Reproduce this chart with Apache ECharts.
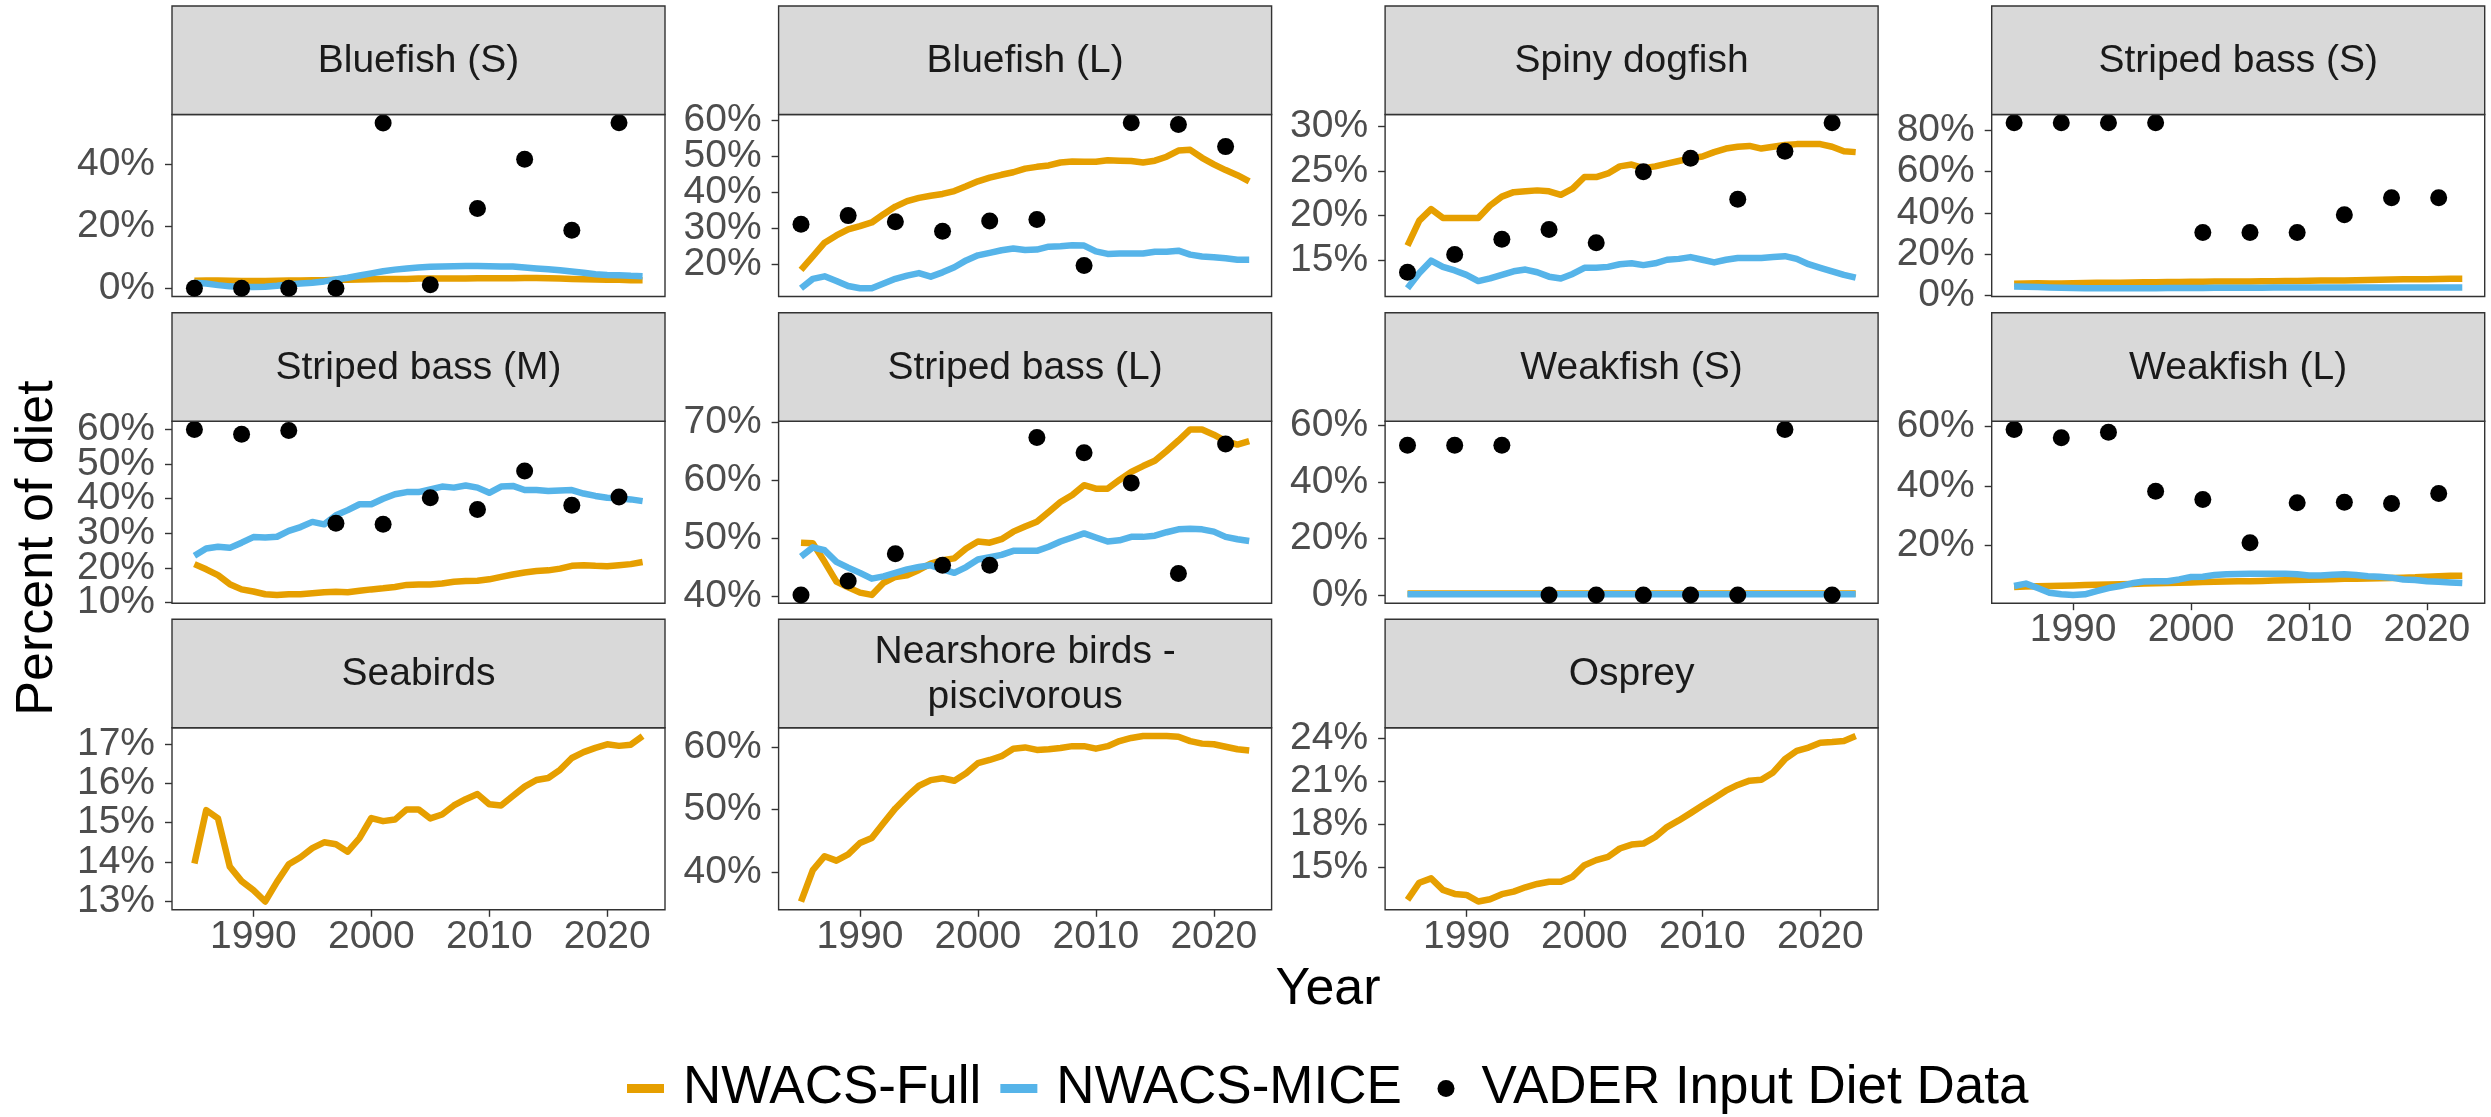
<!DOCTYPE html>
<html><head><meta charset="utf-8">
<script src="https://cdn.jsdelivr.net/npm/echarts@6/dist/echarts.min.js"></script>
<style>html,body{margin:0;padding:0;background:#fff}#c{width:2491px;height:1117px}</style>
</head><body><div id="c"></div>
<script>
// ---------- DATA ----------
const years = [1985,1986,1987,1988,1989,1990,1991,1992,1993,1994,1995,1996,1997,1998,1999,2000,2001,2002,2003,2004,2005,2006,2007,2008,2009,2010,2011,2012,2013,2014,2015,2016,2017,2018,2019,2020,2021,2022,2023];
const dietYears = [1985,1989,1993,1997,2001,2005,2009,2013,2017,2021];
const xTicks = [1990,2000,2010,2020];
const seriesNames = ['NWACS-Full','NWACS-MICE','VADER Input Diet Data'];
const panelTitles = ['Bluefish (S)','Bluefish (L)','Spiny dogfish','Striped bass (S)','Striped bass (M)','Striped bass (L)','Weakfish (S)','Weakfish (L)','Seabirds','Nearshore birds -\npiscivorous','Osprey'];

const bluefishS_full = [2.4,2.5,2.5,2.4,2.3,2.3,2.3,2.4,2.5,2.5, 2.6,2.6,2.7,2.7,2.8,2.9,3.0,3.0,3.0,3.1, 3.1,3.1,3.1,3.1,3.2,3.2,3.2,3.2,3.3,3.3, 3.2,3.1,3.0,2.9,2.8,2.7,2.7,2.6,2.6];
const bluefishS_mice = [1.8,1.5,1.0,0.6,0.4,0.4,0.5,0.8,1.2,1.5, 1.8,2.2,2.8,3.4,4.1,4.8,5.5,6.0,6.4,6.7, 6.9,7.0,7.1,7.2,7.2,7.1,7.0,7.0,6.7,6.4, 6.1,5.8,5.4,5.0,4.5,4.3,4.2,4.0,3.9];
const bluefishS_diet = [0,0,0,0,53.3,1.1,25.7,41.6,18.7,53.4];
const bluefishS_ticks = [0,20,40];

const bluefishL_full = [18.6,22.3,26.1,28.1,29.8,30.7,31.7,34.0,36.1,37.6, 38.5,39.1,39.6,40.4,41.7,43.1,44.1,44.9,45.6,46.6, 47.1,47.5,48.3,48.6,48.5,48.5,48.9,48.8,48.7,48.3, 48.8,49.9,51.6,51.8,49.6,47.8,46.2,44.8,43.1];
const bluefishL_mice = [13.5,16.1,16.8,15.5,14.1,13.5,13.5,14.8,16.1,17.0, 17.7,16.7,17.9,19.3,21.2,22.6,23.3,24.0,24.5,24.1, 24.2,25.0,25.1,25.4,25.3,23.7,23.0,23.1,23.1,23.1, 23.6,23.6,23.9,22.8,22.3,22.1,21.8,21.4,21.4];
const bluefishL_diet = [31.2,33.6,31.9,29.3,32.1,32.5,19.8,59.3,58.8,52.7];
const bluefishL_ticks = [20,30,40,50,60];

const dogfish_full = [16.6,19.4,20.7,19.7,19.7,19.7,19.7,21.1,22.1,22.6, 22.7,22.8,22.7,22.3,23.0,24.3,24.3,24.7,25.5,25.7, 25.3,25.5,25.8,26.1,26.4,26.6,27.1,27.5,27.7,27.8, 27.5,27.7,27.9,28.0,28.0,28.0,27.7,27.2,27.1];
const dogfish_mice = [11.8,13.5,14.9,14.2,13.8,13.3,12.6,12.9,13.3,13.7, 13.9,13.6,13.1,12.9,13.4,14.1,14.1,14.2,14.5,14.6, 14.4,14.6,15.0,15.1,15.3,15.0,14.7,15.0,15.2,15.2, 15.2,15.3,15.4,15.1,14.5,14.1,13.7,13.3,13.0];
const dogfish_diet = [13.6,15.6,17.3,18.4,16.9,24.9,26.4,21.8,27.2,30.4];
const dogfish_ticks = [15,20,25,30];

const stripedS_full = [5.8,5.9,6.0,5.9,5.9,6.0,6.1,6.2,6.2,6.3, 6.4,6.5,6.5,6.6,6.6,6.7,6.7,6.8,6.8,6.9, 6.9,7.0,7.0,7.1,7.1,7.2,7.3,7.3,7.4,7.5, 7.6,7.7,7.8,7.9,8.0,8.0,8.1,8.2,8.2];
const stripedS_mice = [4.4,4.3,4.2,4.0,3.8,3.7,3.6,3.6,3.6,3.6, 3.6,3.6,3.6,3.7,3.7,3.7,3.7,3.8,3.8,3.8, 3.8,3.8,3.9,3.9,3.9,3.9,3.9,3.9,4.0,4.0, 4.0,4.0,4.0,4.0,4.0,4.0,4.0,4.0,4.0];
const stripedS_diet = [83.7,83.7,83.7,83.7,30.6,30.6,30.6,39.2,47.4,47.4];
const stripedS_ticks = [0,20,40,60,80];

const stripedM_full = [21.1,19.6,17.9,15.3,13.8,13.2,12.4,12.2,12.4,12.4, 12.7,13.0,13.1,13.0,13.4,13.8,14.1,14.5,15.1,15.2, 15.2,15.5,16.0,16.2,16.3,16.7,17.4,18.1,18.7,19.1, 19.3,19.8,20.6,20.8,20.6,20.5,20.8,21.1,21.7];
const stripedM_mice = [23.5,25.6,26.1,25.8,27.3,28.9,28.8,29.0,30.7,31.8, 33.3,32.6,35.2,36.7,38.4,38.4,40.0,41.3,41.9,41.9, 42.7,43.5,43.2,43.8,43.2,41.7,43.5,43.7,42.5,42.5, 42.2,42.4,42.5,41.5,40.8,40.3,40.1,39.8,39.3];
const stripedM_diet = [60.0,58.6,59.7,32.9,32.6,40.3,36.9,48.0,38.1,40.5];
const stripedM_ticks = [10,20,30,40,50,60];

const stripedL_full = [49.2,49.1,45.9,42.5,41.5,40.6,40.2,42.3,43.3,43.6, 44.5,45.6,46.2,46.5,48.2,49.4,49.2,49.8,51.1,52.0, 52.8,54.5,56.2,57.4,59.1,58.5,58.5,60.0,61.4,62.4, 63.3,65.0,66.8,68.7,68.7,67.8,66.7,66.1,66.7];
const stripedL_mice = [46.8,48.4,47.9,45.9,44.9,44.0,43.0,43.4,44.0,44.6, 45.0,45.3,44.6,44.0,45.0,46.3,46.7,47.1,47.8,47.8, 47.8,48.5,49.4,50.1,50.8,50.1,49.4,49.6,50.2,50.2, 50.4,51.0,51.5,51.6,51.5,51.1,50.2,49.8,49.5];
const stripedL_diet = [40.2,42.6,47.3,45.3,45.3,67.3,64.7,59.5,43.9,66.2];
const stripedL_ticks = [40,50,60,70];

const weakS_full = [0.5,0.5,0.5,0.5,0.5,0.5,0.5,0.5,0.5,0.5, 0.5,0.5,0.5,0.5,0.5,0.5,0.5,0.5,0.5,0.5, 0.5,0.5,0.5,0.5,0.5,0.5,0.5,0.5,0.5,0.5, 0.5,0.5,0.5,0.5,0.5,0.5,0.5,0.5,0.5];
const weakS_mice = [0.2,0.2,0.2,0.2,0.2,0.2,0.2,0.2,0.2,0.2, 0.2,0.2,0.2,0.2,0.2,0.2,0.2,0.2,0.2,0.2, 0.2,0.2,0.2,0.2,0.2,0.2,0.2,0.2,0.2,0.2, 0.2,0.2,0.2,0.2,0.2,0.2,0.2,0.2,0.2];
const weakS_diet = [53.0,53.0,53.0,0,0,0,0,0,58.6,0];
const weakS_ticks = [0,20,40,60];

const weakL_full = [6.1,6.2,6.3,6.4,6.5,6.6,6.7,6.8,6.9,7.0, 7.1,7.2,7.3,7.4,7.5,7.6,7.7,7.8,7.9,8.0, 8.0,8.1,8.2,8.3,8.4,8.5,8.6,8.7,8.8,8.8, 8.9,9.0,9.1,9.2,9.3,9.5,9.7,9.8,9.8];
const weakL_mice = [6.4,7.2,5.7,4.1,3.6,3.4,3.6,4.7,5.7,6.4, 7.3,7.9,8.0,8.0,8.6,9.4,9.5,10.1,10.3,10.4, 10.5,10.5,10.5,10.5,10.3,9.9,9.9,10.2,10.3,10.1, 9.7,9.5,9.2,8.6,8.4,8.0,7.8,7.6,7.4];
const weakL_diet = [58.9,56.1,58.0,38.2,35.4,20.9,34.3,34.5,34.1,37.4];
const weakL_ticks = [20,40,60];

const seabirds_full = [13.96,15.32,15.11,13.88,13.51,13.28,12.99,13.49,13.94,14.12, 14.35,14.50,14.45,14.26,14.61,15.12,15.04,15.08,15.34,15.34, 15.11,15.21,15.44,15.60,15.73,15.47,15.44,15.68,15.92,16.09, 16.14,16.35,16.65,16.80,16.91,17.00,16.96,16.99,17.21];
const seabirds_ticks = [13,14,15,16,17];

const nearshore_full = [35.4,40.4,42.6,41.9,42.9,44.7,45.5,47.9,50.2,52.1, 53.8,54.7,55.0,54.6,55.8,57.4,57.9,58.5,59.7,59.9, 59.5,59.6,59.8,60.1,60.1,59.7,60.1,60.9,61.4,61.7, 61.7,61.7,61.6,60.9,60.5,60.4,60.0,59.6,59.4];
const nearshore_ticks = [40,50,60];

const osprey_full = [12.77,13.96,14.26,13.46,13.18,13.11,12.65,12.81,13.16,13.34, 13.64,13.87,14.03,14.03,14.38,15.18,15.53,15.76,16.34,16.61, 16.68,17.14,17.83,18.29,18.80,19.33,19.84,20.36,20.76,21.06, 21.12,21.63,22.55,23.13,23.36,23.70,23.75,23.82,24.16];
const osprey_ticks = [15,18,21,24];

// ---------- BUILD ----------
const panels = [
  {full:bluefishS_full, mice:bluefishS_mice, diet:bluefishS_diet, ticks:bluefishS_ticks},
  {full:bluefishL_full, mice:bluefishL_mice, diet:bluefishL_diet, ticks:bluefishL_ticks},
  {full:dogfish_full,   mice:dogfish_mice,   diet:dogfish_diet,   ticks:dogfish_ticks},
  {full:stripedS_full,  mice:stripedS_mice,  diet:stripedS_diet,  ticks:stripedS_ticks},
  {full:stripedM_full,  mice:stripedM_mice,  diet:stripedM_diet,  ticks:stripedM_ticks},
  {full:stripedL_full,  mice:stripedL_mice,  diet:stripedL_diet,  ticks:stripedL_ticks},
  {full:weakS_full,     mice:weakS_mice,     diet:weakS_diet,     ticks:weakS_ticks},
  {full:weakL_full,     mice:weakL_mice,     diet:weakL_diet,     ticks:weakL_ticks},
  {full:seabirds_full,  ticks:seabirds_ticks},
  {full:nearshore_full, ticks:nearshore_ticks},
  {full:osprey_full,    ticks:osprey_ticks}
];

const FONT = '"Liberation Sans", Arial, Helvetica, sans-serif';
const ORANGE = '#E69F00', BLUE = '#56B4E9';
const colLeft = [172, 778.6, 1385.1, 1991.7];
const stripTop = [6, 312.7, 619.3];
const PW = 493, SH = 108.5, PH = 182;
const xLabelPanels = [7, 8, 9, 10];
const xMin = years[0] - 0.05 * (years[years.length-1] - years[0]);
const xMax = years[years.length-1] + 0.05 * (years[years.length-1] - years[0]);

const grids = [], xAxes = [], yAxes = [], series = [], graphics = [];
const pair = (xs, ys) => xs.map((x, k) => [x, ys[k]]);

function yAxisDef(i, lo, hi, ticks) {
  return {gridIndex: i, type: 'value', position: 'left', offset: 0, min: lo, max: hi,
    axisLine: {show: false}, splitLine: {show: false},
    axisTick: {show: true, length: 7, customValues: ticks, lineStyle: {color: '#333333', width: 1.4}},
    axisLabel: {show: true, customValues: ticks, margin: 17, color: '#4D4D4D', fontSize: 39, fontFamily: FONT,
      hideOverlap: false, showMinLabel: true, showMaxLabel: true, formatter: v => v + '%'}};
}

panels.forEach((p, i) => {
  const r = Math.floor(i / 4), c = i % 4;
  const left = colLeft[c], top = stripTop[r] + SH;
  grids.push({left: left, top: top, width: PW, height: PH, show: true,
    borderColor: '#333333', borderWidth: 1.4, backgroundColor: '#ffffff', containLabel: false, outerBoundsMode: 'none'});
  const vals = p.full.concat(p.mice || [], p.diet || []);
  const lo = Math.min.apply(null, vals), hi = Math.max.apply(null, vals), pad = (hi - lo) * 0.05;
  const showX = xLabelPanels.indexOf(i) >= 0;
  xAxes.push({gridIndex: i, type: 'value', min: xMin, max: xMax, show: showX,
    axisLine: {show: false}, splitLine: {show: false},
    axisTick: {show: true, length: 7, customValues: xTicks, lineStyle: {color: '#333333', width: 1.4}},
    axisLabel: {show: true, customValues: xTicks, margin: 8, color: '#4D4D4D', fontSize: 39, fontFamily: FONT,
      hideOverlap: false, showMinLabel: true, showMaxLabel: true, formatter: v => String(v)}});
  // two overlaid y axes (alternate ticks) so that tightly spaced labels are all kept, as in the original
  const evenTicks = p.ticks.filter((t, k) => k % 2 === 0);
  const oddTicks = p.ticks.filter((t, k) => k % 2 === 1);
  const yMain = yAxes.length;
  yAxes.push(yAxisDef(i, lo - pad, hi + pad, evenTicks));
  if (oddTicks.length) yAxes.push(yAxisDef(i, lo - pad, hi + pad, oddTicks));
  const ls = (col) => ({color: col, width: 6.5, cap: 'butt', join: 'round', opacity: 1});
  series.push({name: seriesNames[0], type: 'line', xAxisIndex: i, yAxisIndex: yMain, data: pair(years, p.full),
    showSymbol: false, symbol: 'none', lineStyle: ls(ORANGE), itemStyle: {color: ORANGE}, z: 2});
  if (p.mice) series.push({name: seriesNames[1], type: 'line', xAxisIndex: i, yAxisIndex: yMain, data: pair(years, p.mice),
    showSymbol: false, symbol: 'none', lineStyle: ls(BLUE), itemStyle: {color: BLUE}, z: 3});
  if (p.diet) series.push({name: seriesNames[2], type: 'scatter', xAxisIndex: i, yAxisIndex: yMain, data: pair(dietYears, p.diet),
    symbol: 'circle', symbolSize: 17, itemStyle: {color: '#000000', opacity: 1, borderWidth: 0}, z: 4});
  // strip
  graphics.push({type: 'rect', shape: {x: left, y: stripTop[r], width: PW, height: SH},
    style: {fill: '#D9D9D9', stroke: '#333333', lineWidth: 1.4}, z: 10});
  graphics.push({type: 'text', x: left + PW / 2, y: stripTop[r] + SH / 2 + 1, z: 11,
    style: {text: panelTitles[i], fill: '#1A1A1A', font: '39px ' + FONT, align: 'center', verticalAlign: 'middle', lineHeight: 45}});
});

graphics.push({type: 'text', x: 38, y: 548, rotation: Math.PI / 2,
  style: {text: 'Percent of diet', fill: '#000000', font: '52px ' + FONT, align: 'center', verticalAlign: 'middle'}});
graphics.push({type: 'text', x: 1328, y: 990,
  style: {text: 'Year', fill: '#000000', font: '52px ' + FONT, align: 'center', verticalAlign: 'middle'}});

const option = {
  animation: false,
  backgroundColor: '#ffffff',
  textStyle: {fontFamily: FONT},
  grid: grids, xAxis: xAxes, yAxis: yAxes, series: series,
  graphic: {elements: graphics},
  legend: [
    {data: [{name: seriesNames[0], icon: 'rect'}, {name: seriesNames[1], icon: 'rect'}],
     left: 627, top: 1062, itemWidth: 37, itemHeight: 9, itemGap: 19, padding: 0, selectedMode: false,
     textStyle: {fontSize: 53, fontFamily: FONT, color: '#000000', padding: [0, 0, 0, 14]}},
    {data: [{name: seriesNames[2], icon: 'circle', itemStyle: {color: '#000000', opacity: 1}}],
     left: 1437.5, top: 1062, itemWidth: 17, itemHeight: 17, padding: 0, selectedMode: false,
     textStyle: {fontSize: 53, fontFamily: FONT, color: '#000000', padding: [0, 0, 0, 22]}}
  ]
};
const chart = echarts.init(document.getElementById('c'), null, {renderer: 'canvas'});
chart.setOption(option);
</script></body></html>
